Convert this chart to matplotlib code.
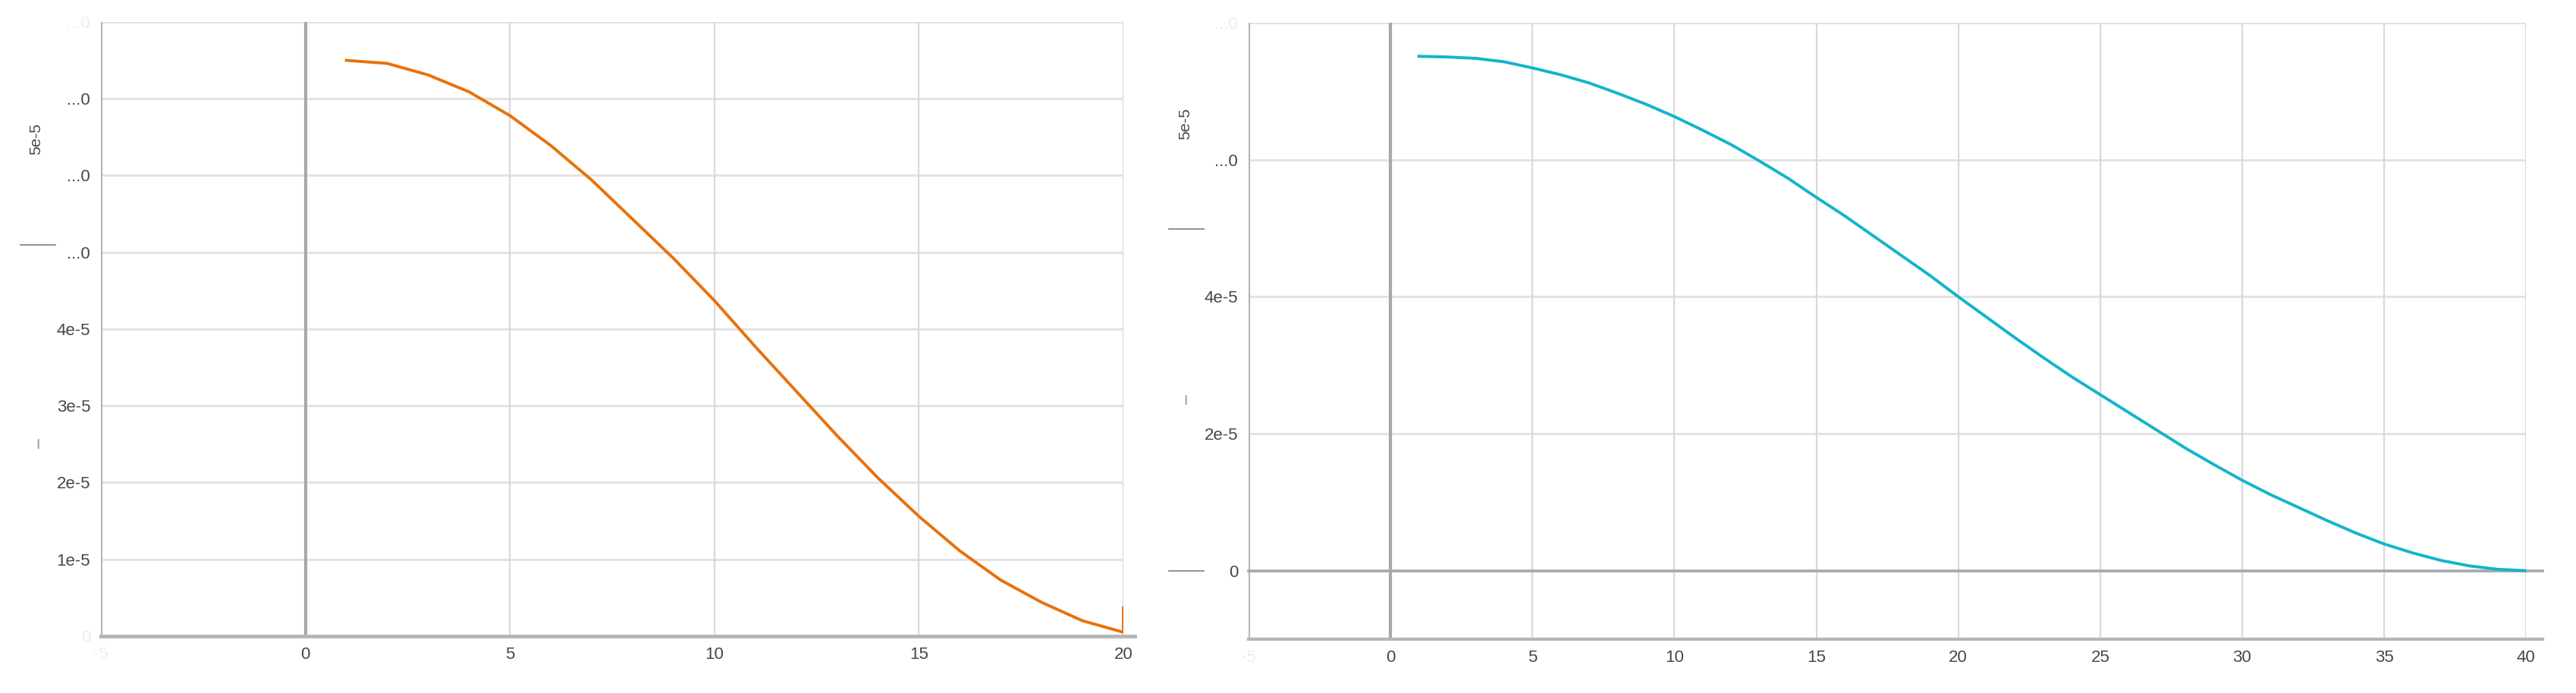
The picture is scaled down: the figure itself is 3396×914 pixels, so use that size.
import numpy as np
import matplotlib.pyplot as plt
from matplotlib.lines import Line2D

plt.rcParams['font.family'] = ['Liberation Sans', 'DejaVu Sans']

# -----------------------------
# Data
# -----------------------------
steps_left = list(range(1, 21)) + [20]
values_left = [7.50, 7.46, 7.31, 7.09, 6.78, 6.39, 5.94, 5.43, 4.92, 4.37,
               3.77, 3.19, 2.61, 2.06, 1.56, 1.11, 0.73, 0.44, 0.20, 0.05,
               0.37]

steps_right = list(range(1, 41))
values_right = [7.51, 7.50, 7.48, 7.43, 7.34, 7.24, 7.12, 6.97, 6.81, 6.63,
                6.43, 6.22, 5.98, 5.73, 5.45, 5.18, 4.89, 4.60, 4.31, 4.00,
                3.70, 3.40, 3.11, 2.83, 2.57, 2.31, 2.05, 1.79, 1.55, 1.32,
                1.11, 0.92, 0.73, 0.55, 0.39, 0.26, 0.15, 0.07, 0.02, 0.00]

left_xticks = [-5, 0, 5, 10, 15, 20]
left_yticks = [0, 1, 2, 3, 4, 5, 6, 7, 8]
left_ylabels = ['0', '1e-5', '2e-5', '3e-5', '4e-5', '...0', '...0', '...0', '...0']

right_xticks = [-5, 0, 5, 10, 15, 20, 25, 30, 35, 40]
right_yticks = [0, 2, 4, 6, 8]
right_ylabels = ['0', '2e-5', '4e-5', '...0', '...0']

SCALE = 1e-5
ORANGE = '#E8710A'
CYAN = '#12B5CB'
GRID = '#e3e3e3'
TXT = '#474747'
FAINT = '#eeeeee'

fig = plt.figure(figsize=(33.96, 9.14), dpi=100)
ax1 = fig.add_axes([0.0392, 0.0821, 0.3969, 0.8862])
ax2 = fig.add_axes([0.4847, 0.0777, 0.4959, 0.8895])


def style(ax, xticks, yticks, ylabels, xlim, ylim):
    ax.set_xlim(*xlim)
    ax.set_ylim(ylim[0] * SCALE, ylim[1] * SCALE)
    for s in ax.spines.values():
        s.set_visible(False)
    ax.set_xticks(xticks)
    ax.set_xticklabels([str(t) for t in xticks])
    ax.set_yticks([v * SCALE for v in yticks])
    ax.set_yticklabels(ylabels)
    ax.tick_params(length=0, labelsize=16, colors=TXT)
    ax.tick_params(axis='y', pad=10)
    ax.tick_params(axis='x', pad=10)
    ax.xaxis.get_ticklabels()[0].set_color(FAINT)
    ax.yaxis.get_ticklabels()[-1].set_color(FAINT)
    for v in yticks:
        ax.axhline(v * SCALE, color=GRID, lw=2.2, zorder=0)
    for t in xticks[1:]:
        ax.axvline(t, color='#d9d9d9', lw=1.6, zorder=0)
    # left axis line
    ax.axvline(xlim[0], color='#b5b5b5', lw=3, zorder=1)
    # x = 0 baseline
    ax.axvline(0, color='#a8a8a8', lw=3, zorder=1)


# left panel
style(ax1, left_xticks, left_yticks, left_ylabels, (-5, 20), (0, 8))
ax1.yaxis.get_ticklabels()[0].set_color(FAINT)
ax1.axhline(0, xmin=0, xmax=1.011, color='#b5b5b5', lw=3.5, clip_on=False, zorder=1)
ax1.plot(steps_left, [v * SCALE for v in values_left], color=ORANGE, lw=2.8,
         solid_joinstyle='round', zorder=3)

# right panel
style(ax2, right_xticks, right_yticks, right_ylabels, (-5, 40), (-1, 8))
ax2.axhline(0, xmin=0, xmax=1.013, color='#a8a8a8', lw=2.6, clip_on=False, zorder=1)
ax2.axhline(-1 * SCALE, xmin=0, xmax=1.013, color='#b5b5b5', lw=3, clip_on=False, zorder=1)
ax2.plot(steps_right, [v * SCALE for v in values_right], color=CYAN, lw=2.8,
         solid_joinstyle='round', zorder=3)

# stray axis-title fragments
W, H = 3396, 914


def fx(x):
    return x / W


def fy(y):
    return 1 - y / H


for x, y in [(48, 183), (1563, 163)]:
    fig.text(fx(x), fy(y), '5e-5', rotation=90, fontsize=15, color=TXT,
             ha='center', va='center', fontstretch='condensed')
for x, y in [(50, 587), (1563, 529)]:
    fig.text(fx(x), fy(y), 'I', fontsize=14, color='#999999', ha='center', va='center')
for x0, x1, y in [(27, 73, 323), (1541, 1587, 302), (1541, 1587, 753)]:
    fig.add_artist(Line2D([fx(x0), fx(x1)], [fy(y), fy(y)], color='#888888', lw=1.3))

fig.savefig('out.png', dpi=100, facecolor='white')
